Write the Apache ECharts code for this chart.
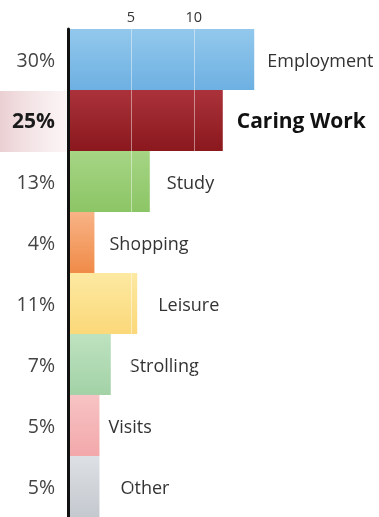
<!DOCTYPE html>
<html>
<head>
<meta charset="utf-8">
<script src="https://cdn.jsdelivr.net/npm/echarts@6/dist/echarts.min.js"></script>
<style>
  html, body { margin: 0; padding: 0; background: #fff; }
  #chart { width: 379px; height: 517px; }
</style>
</head>
<body>
<div id="chart"></div>
<script>
// 类别与数值（小时/周）
var categories = ['Employment', 'Caring Work', 'Study', 'Shopping', 'Leisure', 'Strolling', 'Visits', 'Other']
var hours = [14.8, 12.3, 6.5, 2.1, 5.5, 3.4, 2.5, 2.5]
var shares = ['30%', '25%', '13%', '4%', '11%', '7%', '5%', '5%']
var tickLabels = [5, 10]

// 每根柱子的颜色（上浅下深）
var barColors = [
  ['#93c8ec', '#6db0e2'],
  ['#ab323a', '#8a181d'],
  ['#a6d584', '#8cc566'],
  ['#f8b386', '#f08b48'],
  ['#fde9a2', '#fbd879'],
  ['#bde2bf', '#a3d2a7'],
  ['#f7c3c4', '#f3a8aa'],
  ['#dde0e4', '#c4c9cf']
]
// 标签距柱尾的距离
var labelGap = [13, 14, 17, 15, 21, 19, 9, 21]
var highlight = 1

var chart = echarts.init(document.getElementById('chart'), null, { renderer: 'canvas' })

var seriesData = hours.map(function (v, i) {
  var bold = i === highlight
  return {
    value: v,
    itemStyle: {
      color: new echarts.graphic.LinearGradient(0, 0, 0, 1, [
        { offset: 0, color: barColors[i][0] },
        { offset: 1, color: barColors[i][1] }
      ])
    },
    label: {
      distance: labelGap[i],
      fontWeight: bold ? 'bold' : 'normal',
      fontSize: bold ? 21 : 18,
      color: bold ? '#111' : '#333'
    }
  }
})

var option = {
  backgroundColor: '#fff',
  animation: false,
  textStyle: { fontFamily: 'Open Sans' },
  graphic: [
    {
      type: 'rect',
      z: -10,
      shape: { x: 0, y: 91, width: 67, height: 61 },
      style: {
        fill: new echarts.graphic.LinearGradient(0, 0, 1, 0, [
          { offset: 0, color: 'rgba(214,160,166,0.5)' },
          { offset: 1, color: 'rgba(240,214,217,0.25)' }
        ])
      }
    }
  ],
  grid: { left: 68, width: 302, top: 29, bottom: 0, containLabel: false },
  xAxis: {
    type: 'value',
    position: 'top',
    min: 0,
    max: 24,
    interval: 5,
    axisLine: { show: false },
    axisTick: { show: false },
    splitLine: { show: false },
    axisLabel: {
      margin: 4,
      fontSize: 14.5,
      color: '#333',
      formatter: function (v) {
        return tickLabels.indexOf(v) >= 0 ? String(v) : ''
      }
    }
  },
  yAxis: {
    type: 'category',
    inverse: true,
    z: 5,
    data: categories,
    axisLine: { show: true, lineStyle: { color: '#111', width: 3 } },
    axisTick: { show: false },
    axisLabel: {
      margin: 13,
      formatter: function (val, idx) {
        return idx === highlight ? '{b|' + shares[idx] + '}' : '{n|' + shares[idx] + '}'
      },
      rich: {
        n: { fontSize: 19.5, color: '#444', fontFamily: 'Open Sans', padding: [4, 0, 0, 0] },
        b: { fontSize: 21, color: '#1a1a1a', fontWeight: 'bold', fontFamily: 'Open Sans', padding: [3, 0, 0, 0] }
      }
    }
  },
  series: [
    {
      type: 'bar',
      data: seriesData,
      barCategoryGap: 0,
      label: {
        show: true,
        position: 'right',
        offset: [0, 2],
        formatter: function (p) { return categories[p.dataIndex] }
      },
      markLine: {
        silent: true,
        symbol: 'none',
        label: { show: false },
        lineStyle: { color: 'rgba(255,255,255,0.45)', type: 'solid', width: 1 },
        data: tickLabels.map(function (t) { return { xAxis: t } })
      }
    }
  ]
}

chart.setOption(option)
</script>
</body>
</html>
